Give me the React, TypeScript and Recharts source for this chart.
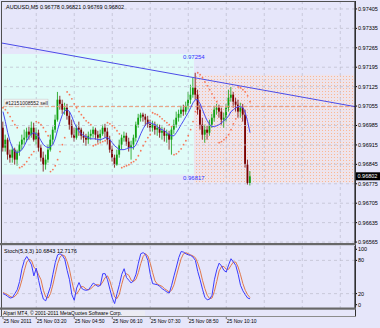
import React from 'react';
import { ComposedChart, Bar, Line, XAxis, YAxis, ReferenceArea, ReferenceLine } from 'recharts';

// ---------- data (prices in points: 97405 => 0.97405) ----------
const opens = [96977,96905,96934,96880,96869,96898,96862,96891,96916,96934,
  96941,96963,96952,96977,96934,96959,96905,96869,96844,96862,
  96898,96934,96970,97006,97078,97063,97042,97049,97020,96988,
  96952,96941,96977,96970,96948,96941,96934,96948,96955,96970,
  96952,96941,96955,96977,96963,96934,96898,96869,96844,96880,
  96916,96941,96948,96927,96905,96916,96941,96988,97013,97024,
  97017,97006,96991,96977,96988,96970,96977,96959,96966,96948,
  96955,96934,96970,96988,97013,97027,97042,97035,97056,97078,
  97096,97121,97096,97042,96988,96952,96970,96959,96988,97013,
  97042,97049,97035,97006,97013,97049,97085,97096,97071,97060,
  97035,97049,97024,96844,96778];
const highs = [96999,96952,96941,96898,96909,96905,96898,96927,96952,96970,
  96977,96981,96999,96995,96977,96970,96916,96891,96880,96916,
  96952,96981,97024,97106,97092,97078,97067,97063,97035,97006,
  96977,96988,96999,96977,96963,96955,96963,96970,96981,96977,
  96966,96970,96988,96991,96977,96948,96912,96880,96898,96934,
  96952,96963,96959,96941,96930,96952,96999,97027,97031,97031,
  97027,97020,97006,97002,96999,96991,96988,96981,96977,96970,
  96966,96981,97006,97035,97042,97056,97060,97071,97106,97132,
  97157,97175,97114,97060,97013,96988,96984,97006,97027,97056,
  97063,97060,97049,97031,97063,97114,97124,97106,97085,97078,
  97067,97063,97042,96862,96821];
const lows = [96891,96891,96862,96851,96851,96844,96840,96876,96898,96916,
  96927,96934,96941,96927,96916,96891,96855,96819,96826,96851,
  96891,96916,96959,96999,97042,97027,97024,97006,96970,96941,
  96927,96934,96948,96934,96923,96912,96919,96934,96941,96934,
  96923,96927,96948,96941,96916,96887,96855,96833,96840,96869,
  96898,96927,96912,96891,96862,96898,96927,96977,96999,96999,
  96984,96977,96963,96963,96952,96948,96941,96934,96927,96923,
  96898,96880,96955,96977,96999,97013,97020,97024,97042,97063,
  97085,97078,97024,96970,96934,96923,96934,96948,96977,96999,
  97024,97013,96988,96977,96999,97035,97071,97049,97035,97013,
  97013,96999,96833,96772,96769];
const closes = [96905,96934,96880,96869,96898,96862,96891,96916,96934,96941,
  96963,96952,96977,96934,96959,96905,96869,96844,96862,96898,
  96934,96970,97006,97078,97063,97042,97049,97020,96988,96952,
  96941,96977,96970,96948,96941,96934,96948,96955,96970,96952,
  96941,96955,96977,96963,96934,96898,96869,96844,96880,96916,
  96941,96948,96927,96905,96916,96941,96988,97013,97024,97017,
  97006,96991,96977,96988,96970,96977,96959,96966,96948,96955,
  96934,96970,96988,97013,97027,97042,97035,97056,97078,97096,
  97121,97096,97042,96988,96952,96970,96959,96988,97013,97042,
  97049,97035,97006,97013,97049,97085,97096,97071,97060,97035,
  97049,97024,96844,96778,96802];
const maLine = [97035,96999,96959,96927,96905,96891,96887,96891,96898,96912,
  96930,96945,96955,96959,96955,96945,96930,96916,96909,96905,
  96909,96916,96937,96970,96999,97024,97038,97042,97035,97017,
  96995,96977,96963,96955,96948,96945,96941,96937,96937,96937,
  96934,96934,96937,96941,96941,96934,96923,96912,96905,96898,
  96898,96898,96901,96905,96905,96905,96916,96934,96955,96973,
  96988,96995,96995,96991,96988,96981,96973,96970,96966,96959,
  96952,96948,96948,96959,96973,96988,97002,97017,97031,97049,
  97067,97078,97078,97063,97042,97020,97002,96988,96981,96981,
  96984,96988,96995,97002,97009,97020,97035,97042,97049,97053,
  97053,97049,97031,96999,96959];
const sarDots = [97049,97042,97031,97017,97002,96988,96977,96833,96837,96844,
  96855,96869,96880,96891,96999,96995,96988,96977,96963,96948,
  96819,96826,96840,96862,96891,96916,96941,97106,97096,97081,
  97063,97049,97035,97024,97013,97002,96995,96988,96912,96916,
  96919,96923,96927,96930,96995,96991,96984,96977,96966,96955,
  96833,96837,96840,96844,96851,96855,96862,96876,96894,96912,
  96927,96941,96952,97031,97027,97024,97017,97009,97002,96995,
  96988,96981,96880,96883,96891,96901,96916,96930,96948,96970,
  96999,97035,97175,97168,97157,97142,97128,97114,97099,97085,
  97071,96923,96927,96934,96941,96952,96970,96991,97009,97124,
  97121,97114,97106,97092,97071];
const stochK = [20,18,15,12,13,20,27,42,65,80,
  87,80,72,52,66,44,25,10,7,20,
  33,55,76,90,92,89,82,62,45,18,
  8,30,40,30,27,26,27,33,39,36,
  33,35,56,56,45,28,12,2,20,36,
  55,65,49,44,39,44,55,75,92,94,
  91,80,55,38,37,36,33,29,26,23,
  21,35,52,68,85,96,95,92,90,89,
  86,80,60,45,28,13,9,10,17,45,
  63,75,70,62,59,72,83,77,71,55,
  35,25,18,12,10.68];
const stochD = [22,20,18,15,13,15,20,30,45,62,
  77,82,80,68,63,54,45,26,14,12,
  20,36,55,74,86,90,88,78,63,42,
  24,19,26,33,32,28,27,29,33,36,
  36,35,41,49,52,43,28,14,11,19,
  37,52,56,53,44,42,46,58,74,87,
  92,88,75,58,43,37,35,33,29,26,
  23,26,36,52,68,83,92,94,92,90,
  88,85,75,62,44,29,17,11,12,24,
  42,61,69,69,64,64,71,77,77,68,
  54,38,26,18,12.72];

const priceTicks = [97405,97335,97265,97195,97125,97055,96985,96915,96845,96775,96705,96635,96565];
const stochTicks = [0, 20, 80, 100];
const gridBars = [14, 30, 46, 62, 78, 94, 110, 126, 142];
const timeTickBars = [0, 14, 30, 46, 62, 78, 94];
const timeLabels = ['25 Nov 2011','25 Nov 03:20','25 Nov 04:50','25 Nov 06:10','25 Nov 07:30','25 Nov 08:50','25 Nov 10:10'];

const boxHigh = 97254, boxLow = 96817;       // cyan range texts
const boxTop = 97243, boxBottom = 96808;     // cyan rectangle
const zoneTop = 97168, zoneBottom = 96779;   // dotted orange rectangle
const boxSplitBar = 80.4;
const orderPrice = 97053;
const orderText = '#12151008552 sell';
const trendA = { i: -0.42, p: 97282 };
const trendB = { i: 148.2, p: 97053 };
const stochTitle = 'Stoch(5,3,3) 10.6843 12.7176';
const headerText = 'AUDUSD,M5  0.96778 0.96821 0.96769 0.96802';
const copyright = 'Alpari MT4, \u00a9 2001-2011 MetaQuotes Software Corp.';

const X_DOMAIN: [number, number] = [-0.42, 148.2];
const PRICE_DOMAIN: [number, number] = [96558, 97430];
const STOCH_DOMAIN: [number, number] = [-7.8, 106];

// ---------- styles ----------
const BG = '#e6e6fa';
const CYAN = '#e0fcf8';
const GRID = '#bcbccc';
const BULL = '#10a010';
const BEAR = '#7a0000';
const FONT = 'Liberation Sans, Arial, sans-serif';

const fmt = (v: number) => (v / 100000).toFixed(5);
const lastClose = closes[closes.length - 1];

const Candle = (props: any) => {
  const { x, y, width, height, payload } = props;
  if (!payload || height == null || isNaN(y)) return null;
  const { o, h, l, c } = payload;
  const cx = x + width / 2;
  const k = height / (h - l);
  const top = y + (h - Math.max(o, c)) * k;
  const bh = Math.max(0.8, Math.abs(o - c) * k);
  const col = c >= o ? BULL : BEAR;
  return (
    <g>
      <line x1={cx} x2={cx} y1={y} y2={y + height} stroke={col} strokeWidth={0.8} />
      <rect x={cx - 0.9} y={top} width={1.8} height={bh} fill={col} />
    </g>
  );
};

const PriceTag = (props: any) => {
  const vb = props.viewBox;
  if (!vb) return null;
  const x = vb.x + vb.width;
  return (
    <g>
      <rect x={x + 1} y={vb.y - 4} width={24} height={8} fill="#000" />
      <text x={x + 2.5} y={vb.y + 2} fontSize={5.5} fill="#fff" fontFamily={FONT}>{fmt(lastClose)}</text>
    </g>
  );
};

const OrderTag = (props: any) => {
  const vb = props.viewBox;
  if (!vb) return null;
  return (
    <g>
      <rect x={vb.x + 2} y={vb.y - 7.5} width={44} height={7} fill="#f4f4f4" stroke="#c8c8c8" strokeWidth={0.5} />
      <text x={vb.x + 3.5} y={vb.y - 2} fontSize={5} fill="#202020" fontFamily={FONT}>{orderText}</text>
    </g>
  );
};

const BoxTexts = (props: any) => {
  const vb = props.viewBox;
  if (!vb) return null;
  const x = vb.x + vb.width - 11;
  return (
    <g>
      <text x={x} y={vb.y + 5.5} fontSize={6} fill="#3030ff" fontFamily={FONT}>{fmt(boxHigh)}</text>
      <text x={x} y={vb.y + vb.height + 5.5} fontSize={6} fill="#3030ff" fontFamily={FONT}>{fmt(boxLow)}</text>
    </g>
  );
};

const TimeTick = (props: any) => {
  const { x, y, payload } = props;
  const idx = timeTickBars.indexOf(payload.value);
  return (
    <g>
      <line x1={x} x2={x} y1={y + 7} y2={y + 10} stroke="#404040" strokeWidth={0.7} />
      <text x={x + 0.5} y={y + 13.5} fontSize={5} fill="#000" fontFamily={FONT}>{timeLabels[idx]}</text>
    </g>
  );
};

const axisTick = { fontSize: 5.5, fill: '#000', fontFamily: FONT };

export default function App() {
  const rows = opens.map((o, i) => ({
    i, o, h: highs[i], l: lows[i], c: closes[i],
    wick: [lows[i], highs[i]],
    ma: maLine[i], sar: sarDots[i], k: stochK[i], d: stochD[i],
  }));

  return (
    <div style={{ position: 'absolute', left: 0, top: 0, width: 380, height: 328, background: BG, overflow: 'hidden' }}>
      <div style={{ position: 'absolute', left: 0, top: 0 }}>
        <ComposedChart width={380} height={244} data={rows} margin={{ top: 2, right: 0, bottom: 0, left: 2 }}>
          <defs>
            <pattern id="dots" width="3" height="3" patternUnits="userSpaceOnUse">
              <rect width="3" height="3" fill="#eee4ec" />
              <rect x="1" y="1" width="1" height="1" fill="#fbb894" />
            </pattern>
          </defs>
          <XAxis dataKey="i" type="number" domain={X_DOMAIN} allowDataOverflow hide />
          <YAxis orientation="right" width={25} domain={PRICE_DOMAIN} allowDataOverflow ticks={priceTicks}
            tickFormatter={fmt} tick={axisTick} tickSize={2} tickMargin={1} stroke="#000" interval={0} />
          <ReferenceArea x1={X_DOMAIN[0]} x2={boxSplitBar} y1={boxBottom} y2={boxTop} fill={CYAN} fillOpacity={1} stroke="none" />
          <ReferenceArea x1={boxSplitBar} x2={X_DOMAIN[1]} y1={zoneBottom} y2={zoneTop} fill="url(#dots)" fillOpacity={1} stroke="none" />
          {priceTicks.map((p) => (
            <ReferenceLine key={'h' + p} y={p} stroke={GRID} strokeDasharray="3 3" strokeWidth={0.7} />
          ))}
          {gridBars.map((b) => (
            <ReferenceLine key={'v' + b} x={b} stroke={GRID} strokeDasharray="3 3" strokeWidth={0.7} />
          ))}
          <ReferenceArea x1={X_DOMAIN[0]} x2={boxSplitBar} y1={boxBottom} y2={boxTop} fill="none" stroke="none" label={<BoxTexts />} />
          <ReferenceLine y={orderPrice} stroke="#f08a60" strokeDasharray="4 2" strokeWidth={0.8} label={<OrderTag />} />
          <ReferenceLine segment={[{ x: trendA.i, y: trendA.p }, { x: trendB.i, y: trendB.p }]} stroke="#4c4ce8" strokeWidth={1} />
          <ReferenceLine y={lastClose} stroke="none" label={<PriceTag />} />
          <Bar dataKey="wick" barSize={2} shape={<Candle />} isAnimationActive={false} />
          <Line dataKey="ma" type="linear" stroke="#4a4af0" strokeWidth={1} dot={false} isAnimationActive={false} />
          <Line dataKey="sar" stroke="none" dot={{ r: 0.9, fill: '#f8785a', stroke: 'none' }} activeDot={false} isAnimationActive={false} />
        </ComposedChart>
      </div>
      <div style={{ position: 'absolute', left: 0, top: 244 }}>
        <ComposedChart width={380} height={84} data={rows} margin={{ top: 2, right: 0, bottom: 0, left: 2 }}>
          <XAxis dataKey="i" type="number" domain={X_DOMAIN} allowDataOverflow ticks={timeTickBars} interval={0}
            tick={<TimeTick />} tickSize={0} tickMargin={0} axisLine={false} height={19} />
          <YAxis orientation="right" width={25} domain={STOCH_DOMAIN} allowDataOverflow ticks={stochTicks}
            tick={axisTick} tickSize={2} tickMargin={1} stroke="#000" interval={0} />
          <ReferenceLine y={20} stroke={GRID} strokeDasharray="3 3" strokeWidth={0.7} />
          <ReferenceLine y={80} stroke={GRID} strokeDasharray="3 3" strokeWidth={0.7} />
          {gridBars.map((b) => (
            <ReferenceLine key={'sv' + b} x={b} stroke={GRID} strokeDasharray="3 3" strokeWidth={0.7} />
          ))}
          <Line dataKey="d" type="linear" stroke="#e0784c" strokeWidth={1} dot={false} isAnimationActive={false} />
          <Line dataKey="k" type="linear" stroke="#3c3cff" strokeWidth={1} dot={false} isAnimationActive={false} />
        </ComposedChart>
      </div>
      <svg width={380} height={328} style={{ position: 'absolute', left: 0, top: 0, pointerEvents: 'none' }}>
        <line x1={1.5} x2={1.5} y1={1} y2={317} stroke="#505050" strokeWidth={1} />
        <line x1={1} x2={356} y1={1.5} y2={1.5} stroke="#505050" strokeWidth={1} />
        <line x1={355.5} x2={355.5} y1={1} y2={317} stroke="#303030" strokeWidth={1} />
        <rect x={0} y={243} width={356} height={2.2} fill="#686868" />
        <rect x={0} y={307.5} width={356} height={2.2} fill="#686868" />
        <line x1={0} x2={356} y1={316.5} y2={316.5} stroke="#8c8c8c" strokeWidth={1} />
        <text x={6} y={9} fontSize={5.5} fill="#000" fontFamily={FONT}>{headerText}</text>
        <text x={4} y={253} fontSize={5.5} fill="#000" fontFamily={FONT}>{stochTitle}</text>
        <rect x={2} y={310.5} width={143} height={5.5} fill="#ececf4" />
        <text x={3} y={315} fontSize={5} fill="#000" fontFamily={FONT}>{copyright}</text>
      </svg>
    </div>
  );
}
